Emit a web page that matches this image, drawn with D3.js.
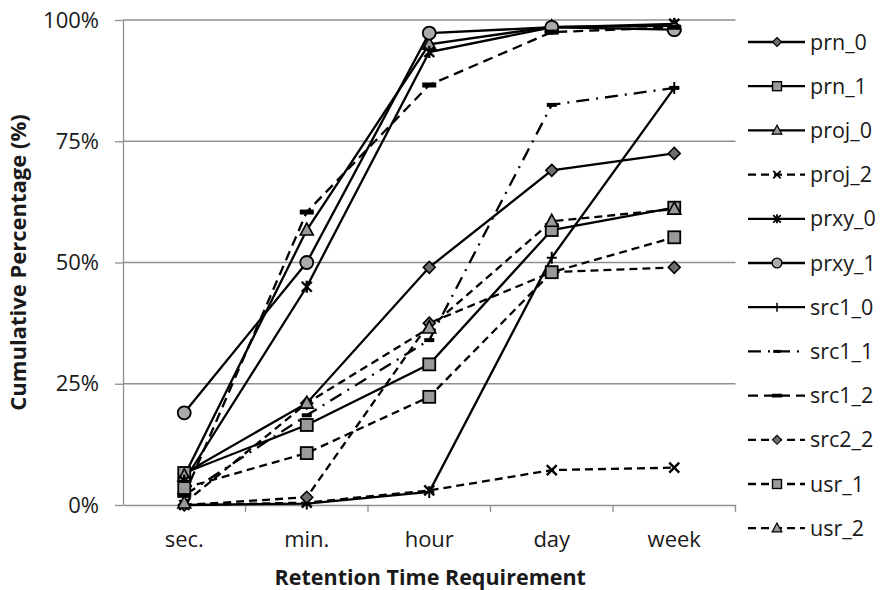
<!DOCTYPE html>
<html>
<head>
<meta charset="utf-8">
<script src="https://cdn.jsdelivr.net/npm/d3@7"></script>
<style>
  body { margin: 0; background: #fff; }
  text { font-family: "Open Sans", "Noto Sans", sans-serif; fill: #1a1a1a; }
</style>
</head>
<body>
<svg id="chart" width="885" height="590"></svg>
<script>
// categories on the x axis and tick values on the y axis
const categories = ["sec.", "min.", "hour", "day", "week"];
const yTicks = [0, 25, 50, 75, 100];

// cumulative percentage per series
const prn_0 = [6.5, 21, 49, 69, 72.5];
const prn_1 = [6.6, 16.5, 29, 56.7, 61.3];
const proj_0 = [6, 56.7, 95, 98.6, 98.8];
const proj_2 = [0, 0.5, 3, 7.2, 7.7];
const prxy_0 = [5, 45, 93.4, 98.5, 99.2];
const prxy_1 = [19, 50, 97.3, 98.5, 98];
const src1_0 = [0, 0.3, 2.7, 51, 86];
const src1_1 = [2, 18.5, 34, 82.5, 86];
const src1_2 = [2, 60.4, 86.6, 97.5, 98.5];
const src2_2 = [0, 1.6, 37.5, 48, 49];
const usr_1 = [3.5, 10.7, 22.3, 48, 55.2];
const usr_2 = [0.4, 21, 36.5, 58.5, 61];

const seriesNames = ["prn_0", "prn_1", "proj_0", "proj_2", "prxy_0", "prxy_1",
    "src1_0", "src1_1", "src1_2", "src2_2", "usr_1", "usr_2"];
const seriesValues = [prn_0, prn_1, proj_0, proj_2, prxy_0, prxy_1,
    src1_0, src1_1, src1_2, src2_2, usr_1, usr_2];

// line dash and marker for each series
const dashes = {solid: null, dash: "8,5", dashdot: "13,7,2,7", longdash: "10,6"};
const styles = {
    prn_0: {dash: "solid", marker: "diamond"},
    prn_1: {dash: "solid", marker: "square"},
    proj_0: {dash: "solid", marker: "triangle"},
    proj_2: {dash: "dash", marker: "x"},
    prxy_0: {dash: "solid", marker: "asterisk"},
    prxy_1: {dash: "solid", marker: "circle"},
    src1_0: {dash: "solid", marker: "plus"},
    src1_1: {dash: "dashdot", marker: "bar"},
    src1_2: {dash: "longdash", marker: "bigbar"},
    src2_2: {dash: "dash", marker: "diamond"},
    usr_1: {dash: "dash", marker: "square"},
    usr_2: {dash: "dash", marker: "triangle"}
};

let svg = d3.select("#chart");
let plot = {left: 123, right: 735.5, top: 20, bottom: 505};

let xScale = d3.scaleBand().domain(categories).range([plot.left, plot.right]);
let xc = c => xScale(c) + xScale.bandwidth() / 2;
let yScale = d3.scaleLinear().domain([0, 100]).range([plot.bottom, plot.top]);

// grid lines
svg.append("g").selectAll("line")
    .data(yTicks.filter(d => d > 0))
    .join("line")
    .attr("x1", plot.left).attr("x2", plot.right)
    .attr("y1", d => yScale(d)).attr("y2", d => yScale(d))
    .attr("stroke", "#8f8f8f").attr("stroke-width", 1.3);

// y axis
let yAxis = d3.axisLeft(yScale).tickValues(yTicks).tickFormat(d => d + "%")
    .tickSizeInner(8).tickSizeOuter(0).tickPadding(16);
let yg = svg.append("g").attr("transform", "translate(" + plot.left + ",0)").call(yAxis);
yg.selectAll("path, line").attr("stroke", "#8f8f8f").attr("stroke-width", 1.3);
yg.selectAll("text").attr("font-size", 22).attr("font-family", "Open Sans").attr("fill", "#1a1a1a");

// x axis: labels at centres, ticks at band edges
let xAxis = d3.axisBottom(xScale).tickSize(0).tickPadding(26);
let xg = svg.append("g").attr("transform", "translate(0," + plot.bottom + ")").call(xAxis);
xg.select("path").attr("stroke", "#8f8f8f").attr("stroke-width", 1.3);
xg.selectAll("text").attr("font-size", 22).attr("font-family", "Open Sans").attr("fill", "#1a1a1a");
svg.append("g").selectAll("line")
    .data(categories.slice(1).map(c => xScale(c)).concat([plot.right]))
    .join("line")
    .attr("x1", d => d).attr("x2", d => d)
    .attr("y1", plot.bottom).attr("y2", plot.bottom + 7)
    .attr("stroke", "#8f8f8f").attr("stroke-width", 1.3);

// axis titles
svg.append("text")
    .attr("x", (plot.left + plot.right) / 2 + 1).attr("y", 585)
    .attr("text-anchor", "middle").attr("font-size", 21.5).attr("font-weight", "bold")
    .text("Retention Time Requirement");
svg.append("text")
    .attr("transform", "translate(26," + ((plot.top + plot.bottom) / 2) + ") rotate(-90)")
    .attr("text-anchor", "middle").attr("font-size", 22).attr("font-weight", "bold")
    .text("Cumulative Percentage (%)");

// draw one marker at x, y (s scales the marker)
function drawMarker(g, type, x, y, s) {
    let m = g.append("g").attr("transform", "translate(" + x + "," + y + ") scale(" + (s || 1) + ")");
    if (type === "diamond") {
        m.append("path").attr("d", "M0,-6L6,0L0,6L-6,0Z")
            .attr("fill", "#6e6e6e").attr("stroke", "#000").attr("stroke-width", 1.5);
    } else if (type === "square") {
        m.append("rect").attr("x", -6).attr("y", -6).attr("width", 12).attr("height", 12)
            .attr("fill", "#9a9a9a").attr("stroke", "#000").attr("stroke-width", 1.8);
    } else if (type === "triangle") {
        m.append("path").attr("d", "M0,-7L6.5,5L-6.5,5Z")
            .attr("fill", "#9a9a9a").attr("stroke", "#000").attr("stroke-width", 1.6);
    } else if (type === "circle") {
        m.append("circle").attr("r", 6.5)
            .attr("fill", "#ababab").attr("stroke", "#000").attr("stroke-width", 1.8);
    } else if (type === "x") {
        m.append("path").attr("d", "M-5,-5L5,5M-5,5L5,-5")
            .attr("stroke", "#000").attr("stroke-width", 2.4);
    } else if (type === "asterisk") {
        m.append("path").attr("d", "M-5,-5L5,5M-5,5L5,-5M0,-6L0,6")
            .attr("stroke", "#000").attr("stroke-width", 2.4);
    } else if (type === "plus") {
        m.append("path").attr("d", "M0,-6L0,6M-5,0L5,0")
            .attr("stroke", "#000").attr("stroke-width", 2);
    } else if (type === "bar") {
        m.append("rect").attr("x", -5).attr("y", -2).attr("width", 10).attr("height", 4)
            .attr("fill", "#000");
    } else if (type === "bigbar") {
        m.append("rect").attr("x", -7).attr("y", -2.5).attr("width", 14).attr("height", 5)
            .attr("fill", "#000");
    }
}

// lines
let line = d3.line().x((d, i) => xc(categories[i])).y(d => yScale(d));
let linesG = svg.append("g");
seriesNames.forEach((name, k) => {
    linesG.append("path")
        .datum(seriesValues[k])
        .attr("d", line)
        .attr("fill", "none")
        .attr("stroke", "#000")
        .attr("stroke-width", 2.3)
        .attr("stroke-dasharray", dashes[styles[name].dash]);
});

// markers on top
let markersG = svg.append("g");
seriesNames.forEach((name, k) => {
    seriesValues[k].forEach((v, i) => {
        drawMarker(markersG, styles[name].marker, xc(categories[i]), yScale(v), 1);
    });
});

// legend
let legend = svg.append("g");
seriesNames.forEach((name, k) => {
    let ly = 42 + k * 44.2;
    legend.append("line")
        .attr("x1", 748).attr("x2", 805).attr("y1", ly).attr("y2", ly)
        .attr("stroke", "#000").attr("stroke-width", 2.3)
        .attr("stroke-dasharray", dashes[styles[name].dash]);
    drawMarker(legend, styles[name].marker, 777, ly, 0.75);
    legend.append("text")
        .attr("x", 810).attr("y", ly).attr("dy", "0.35em")
        .attr("font-size", 21.5)
        .text(name);
});
</script>
</body>
</html>
